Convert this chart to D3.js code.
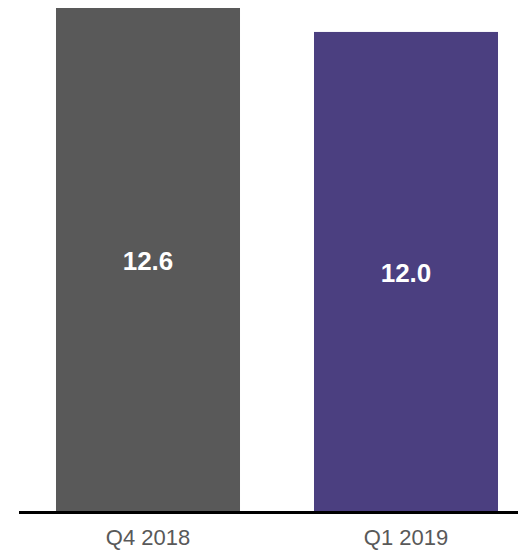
<!DOCTYPE html>
<html><head><meta charset="utf-8">
<script src="https://cdn.jsdelivr.net/npm/d3@7"></script>
<style>html,body{margin:0;padding:0;background:#fff;}svg{display:block;}</style>
</head><body>
<svg id="chart" width="518" height="551"></svg>
<script>
const categories = ["Q4 2018", "Q1 2019"];
const values = [12.6, 12.0];
const labels = ["12.6", "12.0"];
const colors = ["#595959", "#4b3f80"];

const svg = d3.select("#chart");
const W = 518;
const x = d3.scaleBand().domain(categories).range([19, 535]).paddingInner(0.2868).paddingOuter(0.1434);
const y = d3.scaleLinear().domain([0, 12.6]).range([511, 8]);

svg.selectAll("rect.bar").data(categories).join("rect")
  .attr("class", "bar")
  .attr("x", d => x(d))
  .attr("width", x.bandwidth())
  .attr("y", (d, i) => y(values[i]))
  .attr("height", (d, i) => y(0) - y(values[i]))
  .attr("fill", (d, i) => colors[i]);

svg.selectAll("text.val").data(categories).join("text")
  .attr("class", "val")
  .attr("x", d => x(d) + x.bandwidth() / 2)
  .attr("y", (d, i) => (y(values[i]) + y(0)) / 2 + 10.5)
  .attr("text-anchor", "middle")
  .attr("font-family", "Liberation Sans, Arial, sans-serif")
  .attr("font-weight", "bold")
  .attr("font-size", 26)
  .attr("fill", "#fff")
  .text((d, i) => labels[i]);

svg.append("line")
  .attr("x1", 19).attr("x2", W)
  .attr("y1", y(0) + 1.5).attr("y2", y(0) + 1.5)
  .attr("stroke", "#000").attr("stroke-width", 3);

svg.selectAll("text.cat").data(categories).join("text")
  .attr("class", "cat")
  .attr("x", d => x(d) + x.bandwidth() / 2)
  .attr("y", 545)
  .attr("text-anchor", "middle")
  .attr("font-family", "Liberation Sans, Arial, sans-serif")
  .attr("font-size", 22)
  .attr("fill", "#595959")
  .text(d => d);
</script>
</body></html>
